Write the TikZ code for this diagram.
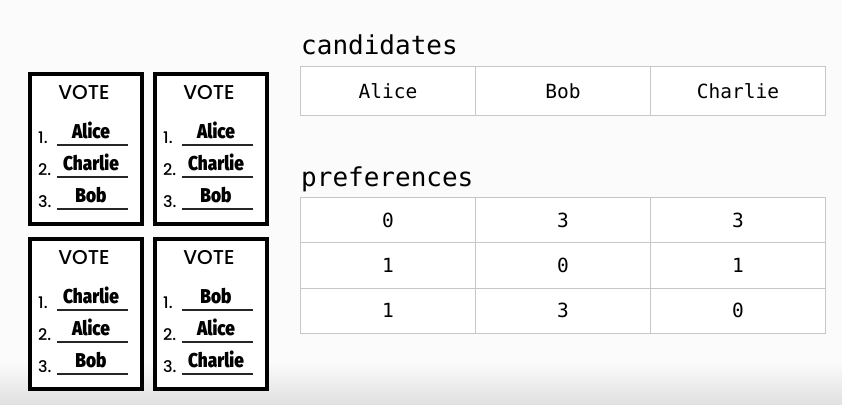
\documentclass[tikz,border=0pt]{standalone}
\usepackage{fontspec}
\setmainfont{Poppins}
\newfontfamily\monofam{DejaVu Sans Mono}
\newfontfamily\handfam[FakeStretch=0.86]{Fira Sans Black}
\newfontfamily\votefam{Poppins Medium}
\begin{document}
\begin{tikzpicture}[x=1pt,y=-1pt,
  card/.style={draw=black,line width=3.6pt,fill=white},
  votelbl/.style={font=\votefam\fontsize{20}{20}\selectfont,inner sep=0pt},
  numlbl/.style={font=\votefam\fontsize{16}{16}\selectfont,inner sep=0pt,anchor=base west},
  namelbl/.style={font=\handfam\fontsize{20}{20}\selectfont,inner sep=0pt,anchor=base},
  uline/.style={draw=black!85,line width=1.2pt},
  cell/.style={draw=black!22,line width=0.9pt,fill=white,minimum width=175pt,
    inner sep=0pt,font=\monofam\fontsize{19.5}{19.5}\selectfont},
  title/.style={font=\monofam\fontsize{26}{26}\selectfont,inner sep=0pt,anchor=base west}]
% page background with darker band at the foot
\fill[color=white!98.5!black] (0,0) rectangle (842,404);
\shade[top color=white!98.5!black,bottom color=black!12] (0,362) rectangle (842,404);
\useasboundingbox (0,0) rectangle (842,404);

% one ballot card: id, left, top, three names
\newcommand\ballotcard[6]{%
  \node[card,minimum width=112pt,minimum height=150pt,anchor=north west,inner sep=0pt] (#1) at (#2,#3) {};
  \node[votelbl] (#1v) at (#2+56,#3+21) {VOTE};
  \foreach \k/\nm/\uy in {1/#4/73,2/#5/105,3/#6/137}{
    \node[numlbl] (#1n\k) at (#2+10,#3+\uy-2) {\k.};
    \coordinate (#1a\k) at (#2+29,#3+\uy);
    \coordinate (#1b\k) at (#2+100,#3+\uy);
    \draw[uline] (#1a\k) -- (#1b\k);
    \node[namelbl] (#1t\k) at (#2+63,#3+\uy-7) {\nm};
  }%
}
\ballotcard{b1}{28}{72}{Alice}{Charlie}{Bob}
\ballotcard{b2}{153}{72}{Alice}{Charlie}{Bob}
\ballotcard{b3}{28}{237}{Charlie}{Alice}{Bob}
\ballotcard{b4}{153}{237}{Bob}{Alice}{Charlie}

% candidates table
\node[title] (ctitle) at (301,55) {candidates};
\foreach \c/\nm [count=\i] in {0/Alice,1/Bob,2/Charlie}{
  \node[cell,minimum height=49pt,anchor=north west] (c\i) at (300+175*\c,66) {\nm};
}

% preferences table
\node[title] (ptitle) at (301,186) {preferences};
\foreach \r/\va/\vb/\vc in {0/0/3/3,1/1/0/1,2/1/3/0}{
  \node[cell,minimum height=45.3pt,anchor=north west] (p\r a) at (300,197+45.3*\r) {\va};
  \node[cell,minimum height=45.3pt,anchor=north west] (p\r b) at (475,197+45.3*\r) {\vb};
  \node[cell,minimum height=45.3pt,anchor=north west] (p\r c) at (650,197+45.3*\r) {\vc};
}
\end{tikzpicture}
\end{document}
